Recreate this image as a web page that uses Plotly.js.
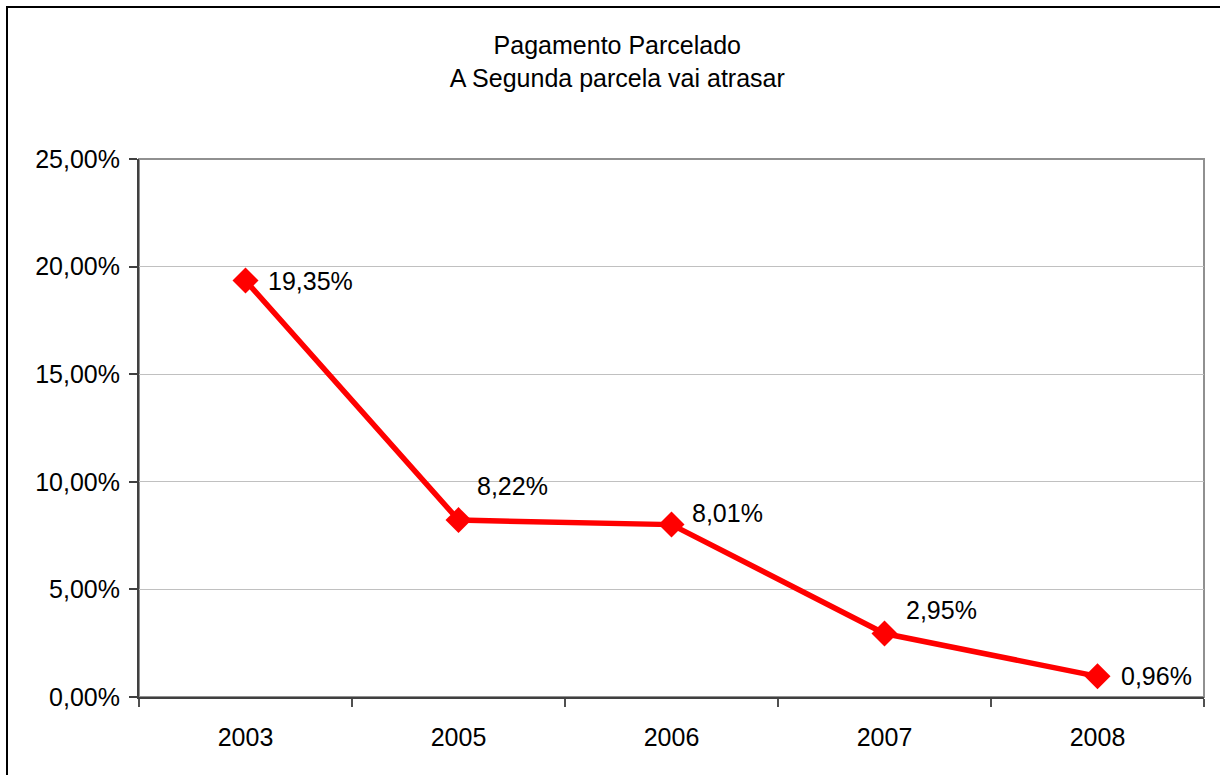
<!DOCTYPE html>
<html>
<head>
<meta charset="utf-8">
<script src="https://cdn.plot.ly/plotly-3.0.1.min.js"></script>
<style>
  html, body { margin: 0; padding: 0; background: #ffffff; overflow: hidden; }
  #wrap { position: relative; width: 1220px; height: 775px; }
  #chart { width: 1220px; height: 775px; }
  #frame { position: absolute; left: 6px; top: 6px; width: 1240px; height: 800px;
           border: 2px solid #000; pointer-events: none; box-sizing: border-box; }
</style>
</head>
<body>
<div id="wrap">
  <div id="chart"></div>
  <div id="frame"></div>
</div>
<script>
// ---- data ----
const years = ['2003', '2005', '2006', '2007', '2008'];
const values = [0.1935, 0.0822, 0.0801, 0.0295, 0.0096];
const valueLabels = ['19,35%', '8,22%', '8,01%', '2,95%', '0,96%'];
const titleLines = ['Pagamento Parcelado', 'A Segunda parcela vai atrasar'];

// label offsets (style, pixels)
const labelShiftX = [20, 16, 18, 19, 21];
const labelShiftY = [0, 34, 12, 24, 0];

const FONT = 'Liberation Sans, Arial, sans-serif';
const FS = 25;

const trace = {
  x: years,
  y: values,
  type: 'scatter',
  mode: 'lines+markers',
  line: { color: '#ff0000', width: 5.5 },
  marker: { symbol: 'diamond', size: 20, color: '#ff0000' },
  hoverinfo: 'skip'
};

const annotations = years.map((yr, i) => ({
  x: i, y: values[i], xref: 'x', yref: 'y',
  text: valueLabels[i], showarrow: false,
  xanchor: 'left', yanchor: 'middle',
  xshift: labelShiftX[i], yshift: labelShiftY[i],
  font: { family: FONT, size: FS, color: '#000' }
}));

const layout = {
  width: 1220, height: 775,
  margin: { l: 139, r: 16, t: 159, b: 78, pad: 0 },
  paper_bgcolor: '#ffffff', plot_bgcolor: '#ffffff',
  separators: ',.',
  showlegend: false,
  font: { family: FONT, size: FS, color: '#000' },
  title: {
    text: titleLines.join('<br>'),
    font: { family: FONT, size: FS, color: '#000' },
    x: 0.506, xanchor: 'center', xref: 'container',
    y: 0.93, yanchor: 'top', yref: 'container'
  },
  xaxis: {
    type: 'category',
    categoryorder: 'array', categoryarray: years,
    range: [-0.5, 4.5],
    autorange: false,
    tickangle: 0,
    tickson: 'boundaries',
    ticks: 'outside', ticklen: 8, tickwidth: 2, tickcolor: '#505050',
    showline: true, linecolor: '#404040', linewidth: 2,
    showgrid: false, zeroline: false,
    tickfont: { family: FONT, size: FS, color: '#000' },
    ticklabelstandoff: 17,
    fixedrange: true
  },
  yaxis: {
    range: [0, 0.25],
    autorange: false,
    dtick: 0.05, tick0: 0,
    tickformat: '.2%',
    ticks: 'outside', ticklen: 8, tickwidth: 2, tickcolor: '#404040',
    showline: true, linecolor: '#404040', linewidth: 2,
    showgrid: true, gridcolor: '#c0c0c0', gridwidth: 1,
    zeroline: false,
    tickfont: { family: FONT, size: FS, color: '#000' },
    ticklabelstandoff: 4,
    fixedrange: true
  },
  shapes: [{
    type: 'rect', xref: 'paper', yref: 'paper',
    x0: 0, x1: 1, y0: 0, y1: 1,
    line: { color: '#909090', width: 2 },
    layer: 'below'
  }],
  annotations: annotations
};

Plotly.newPlot('chart', [trace], layout, { displayModeBar: false, staticPlot: true });
</script>
</body>
</html>
